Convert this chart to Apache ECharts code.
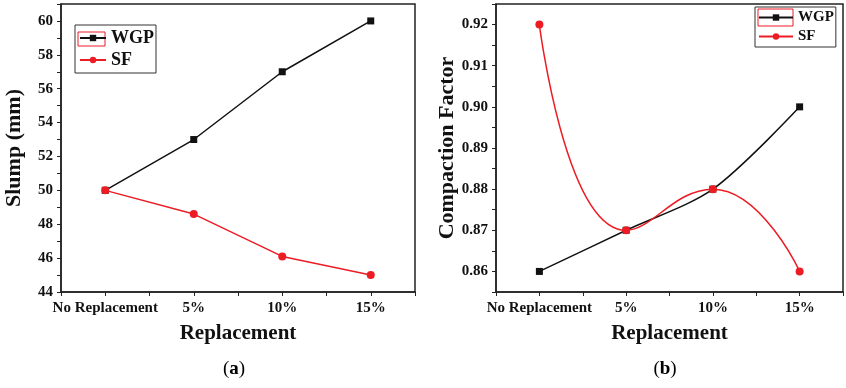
<!DOCTYPE html>
<html>
<head>
<meta charset="utf-8">
<script src="https://cdn.jsdelivr.net/npm/echarts@6/dist/echarts.min.js"></script>
<style>
  html, body { margin: 0; padding: 0; background: #fff; }
  #chart { width: 846px; height: 388px; }
</style>
</head>
<body>
<div id="chart"></div>
<script>
// data
const categories = ['No Replacement', '5%', '10%', '15%'];
const slumpWGP = [50, 53, 57, 60];
const slumpSF = [50, 48.6, 46.1, 45];
const compWGP = [0.86, 0.87, 0.88, 0.90];
const compSF = [0.92, 0.87, 0.88, 0.86];
const slumpTicks = [44, 46, 48, 50, 52, 54, 56, 58, 60];
const compTicks = [0.86, 0.87, 0.88, 0.89, 0.90, 0.91, 0.92];

const FONT = '"Liberation Serif", "Times New Roman", serif';
const INK = '#111';
const RED = '#ec1c24';

const toPoints = arr => arr.map((v, i) => [i, v]);
const near = (a, b) => Math.abs(a - b) < 1e-6;

// x 轴：用数值轴画出中心和边界的刻度
const xAxisOf = (gi) => ({
  type: 'value', gridIndex: gi,
  min: -0.5, max: 3.5, interval: 0.5,
  name: 'Replacement', nameLocation: 'middle', nameGap: 31,
  nameTextStyle: { fontFamily: FONT, fontWeight: 'bold', fontSize: 21, color: INK },
  axisLine: { onZero: false, lineStyle: { color: '#222', width: 1.5 } },
  axisTick: { show: true, length: 4, lineStyle: { color: '#222', width: 1 } },
  axisLabel: {
    margin: 9, fontFamily: FONT, fontWeight: 'bold', fontSize: 15, color: INK,
    formatter: v => near(v, Math.round(v)) ? (categories[Math.round(v)] || '') : ''
  },
  splitLine: { show: false }
});

const yAxisOf = (gi, name, min, max, interval, ticks, digits, gap) => ({
  type: 'value', gridIndex: gi, min, max, interval,
  name, nameLocation: 'middle', nameGap: gap,
  nameTextStyle: { fontFamily: FONT, fontWeight: 'bold', fontSize: 22, color: INK },
  axisLine: { show: true, onZero: false, lineStyle: { color: '#222', width: 1.5 } },
  axisTick: { show: true, length: 4, lineStyle: { color: '#222', width: 1 } },
  axisLabel: {
    margin: 8, fontFamily: FONT, fontWeight: 'bold', fontSize: 15, color: INK,
    formatter: v => ticks.some(t => near(t, v)) ? v.toFixed(digits) : ''
  },
  splitLine: { show: false }
});

const legendOf = (left, top, size, iconW, pad) => ({
  data: ['WGP', 'SF'], orient: 'vertical', left, top,
  padding: pad, itemGap: 4, itemWidth: iconW, itemHeight: 8,
  borderColor: '#333', borderWidth: 1,
  textStyle: { fontFamily: FONT, fontWeight: 'bold', fontSize: size, color: INK }
});

const chartDom = document.getElementById('chart');
const chart = echarts.init(chartDom);

const option = {
  animation: false,
  backgroundColor: '#fff',
  grid: [
    { left: 61, top: 4, width: 354, height: 288, show: true, borderColor: '#222', borderWidth: 1.5 },
    { left: 496, top: 4, width: 355, height: 288, show: true, borderColor: '#222', borderWidth: 1.5 }
  ],
  xAxis: [xAxisOf(0), xAxisOf(1)],
  yAxis: [
    yAxisOf(0, 'Slump (mm)', 44, 61, 1, slumpTicks, 0, 36),
    yAxisOf(1, 'Compaction Factor', 0.855, 0.925, 0.005, compTicks, 2, 38)
  ],
  legend: [
    legendOf(75, 25, 18, 26, [4, 2, 4, 4]),
    legendOf(755, 7, 15, 34, [3, 2, 3, 3])
  ],
  series: [
    {
      name: 'WGP', type: 'line', xAxisIndex: 0, yAxisIndex: 0,
      data: toPoints(slumpWGP), symbol: 'rect', symbolSize: 7,
      itemStyle: { color: INK }, lineStyle: { color: INK, width: 1.5 }
    },
    {
      name: 'SF', type: 'line', xAxisIndex: 0, yAxisIndex: 0,
      data: toPoints(slumpSF), symbol: 'circle', symbolSize: 8,
      itemStyle: { color: RED }, lineStyle: { color: RED, width: 1.5 }
    },
    {
      name: 'WGP', type: 'line', xAxisIndex: 1, yAxisIndex: 1,
      data: toPoints(compWGP), symbol: 'rect', symbolSize: 7, smooth: 0.3,
      itemStyle: { color: INK }, lineStyle: { color: INK, width: 1.5 }
    },
    {
      name: 'SF', type: 'line', xAxisIndex: 1, yAxisIndex: 1,
      data: toPoints(compSF), symbol: 'circle', symbolSize: 8, smooth: 0.5,
      itemStyle: { color: RED }, lineStyle: { color: RED, width: 1.5 }
    }
  ],
  graphic: [
    // 图例第一项外的红框
    { type: 'rect', shape: { x: 78, y: 32, width: 27, height: 14 }, style: { fill: 'none', stroke: RED, lineWidth: 1 } },
    { type: 'rect', shape: { x: 758, y: 9, width: 35, height: 17 }, style: { fill: 'none', stroke: RED, lineWidth: 1 } },
    {
      type: 'text', x: 234, y: 369,
      style: {
        text: '{p|(}{b|a}{p|)}', textAlign: 'center', textVerticalAlign: 'middle',
        rich: {
          p: { fontFamily: FONT, fontSize: 19, color: INK },
          b: { fontFamily: FONT, fontSize: 19, fontWeight: 'bold', color: INK }
        }
      }
    },
    {
      type: 'text', x: 665, y: 369,
      style: {
        text: '{p|(}{b|b}{p|)}', textAlign: 'center', textVerticalAlign: 'middle',
        rich: {
          p: { fontFamily: FONT, fontSize: 19, color: INK },
          b: { fontFamily: FONT, fontSize: 19, fontWeight: 'bold', color: INK }
        }
      }
    }
  ]
};

chart.setOption(option);
</script>
</body>
</html>
